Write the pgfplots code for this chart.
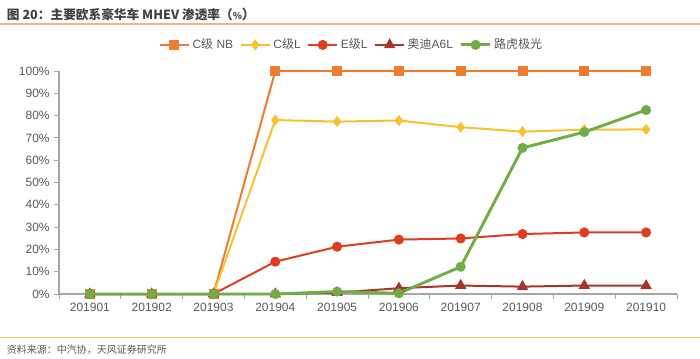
\documentclass[border=0pt]{standalone}
\usepackage{pgfplots}
\pgfplotsset{compat=1.18}
\usepackage{fontspec}
\setmainfont{Liberation Sans}
\newfontfamily\cjk{Noto Sans CJK SC}
\definecolor{cnb}{HTML}{ED7D31}
\definecolor{cl}{HTML}{F9C131}
\definecolor{el}{HTML}{DE3D1F}
\definecolor{aud}{HTML}{A8342A}
\definecolor{lr}{HTML}{70AD47}
\definecolor{txt}{HTML}{595959}
\definecolor{axl}{HTML}{A6A6A6}
\definecolor{rule}{HTML}{F4B183}
\begin{document}
\begin{tikzpicture}
\path[use as bounding box] (0,0) rectangle (525pt,268.5pt);
\node[anchor=west,inner sep=0pt,text=black!75] at (5pt,258pt) {\fontsize{9.5pt}{11pt}\selectfont\cjk\bfseries 图 20：主要欧系豪华车 MHEV 渗透率（\scriptsize\%\normalsize）};
\draw[rule,line width=0.8pt] (0,250.5pt) -- (525pt,250.5pt);
\draw[rule!70!yellow,line width=0.6pt] (0,15.75pt) -- (525pt,15.75pt);
\node[anchor=west,inner sep=0pt,text=txt] at (5pt,6pt) {\fontsize{7.5pt}{9pt}\selectfont\cjk 资料来源：中汽协，天风证券研究所};
\begin{axis}[
  at={(44.25pt,48pt)}, anchor=south west,
  scale only axis, width=463.5pt, height=167.25pt,
  xmin=-0.5, xmax=9.5, ymin=0, ymax=100,
  clip=false,
  axis lines=left, axis line style={-,draw=axl,line width=0.8pt},
  tick align=outside, major tick length=3.5pt,
  tick style={draw=axl,line width=0.7pt},
  xtick={-0.5,0.5,...,9.5}, xticklabels={},
  extra x ticks={0,1,2,3,4,5,6,7,8,9},
  extra x tick labels={201901,201902,201903,201904,201905,201906,201907,201908,201909,201910},
  extra x tick style={major tick length=0pt},
  ytick={0,10,...,100},
  yticklabels={0\%,10\%,20\%,30\%,40\%,50\%,60\%,70\%,80\%,90\%,100\%},
  ticklabel style={font=\fontsize{9pt}{10pt}\selectfont, text=txt},
  xticklabel style={yshift=-3pt},
  legend columns=5,
  legend style={at={(0.474,1.117)}, anchor=center, draw=none, fill=none,
    font=\fontsize{9pt}{10pt}\selectfont, text=txt,
    /tikz/every even column/.append style={column sep=3pt},
    legend cell align=left, inner sep=0pt},
  legend image code/.code={\draw[mark repeat=2,mark phase=2] plot coordinates {(0cm,0cm) (0.38cm,0cm) (0.76cm,0cm)};},
]
\addplot[cnb, line width=1.5pt, mark=square*, mark size=3pt, mark options={fill=cnb,draw=cnb}] coordinates {
(0,0) (1,0) (2,0) (3,100) (4,100) (5,100) (6,100) (7,100) (8,100) (9,100)};
\addlegendentry{C{\cjk 级} NB}
\addplot[cl, line width=1.5pt, mark=diamond*, mark size=3pt, mark options={fill=cl,draw=cl}] coordinates {
(0,0) (1,0) (2,0) (3,78) (4,77.3) (5,77.8) (6,74.8) (7,72.8) (8,73.7) (9,73.8)};
\addlegendentry{C{\cjk 级}L}
\addplot[el, line width=1.5pt, mark=*, mark size=3pt, mark options={fill=el,draw=el}] coordinates {
(0,0) (1,0) (2,0) (3,14.5) (4,21.2) (5,24.4) (6,24.9) (7,26.9) (8,27.6) (9,27.6)};
\addlegendentry{E{\cjk 级}L}
\addplot[aud, line width=1.5pt, mark=triangle*, mark size=3.5pt, mark options={fill=aud,draw=aud}] coordinates {
(0,0) (1,0) (2,0) (3,0) (4,0.6) (5,2.6) (6,3.8) (7,3.3) (8,3.8) (9,3.7)};
\addlegendentry{{\cjk 奥迪}A6L}
\addplot[lr, line width=2.2pt, mark=*, mark size=2.6pt, mark options={fill=lr,draw=lr}] coordinates {
(0,0) (1,0) (2,0) (3,0) (4,1.1) (5,0.3) (6,12.2) (7,65.5) (8,72.6) (9,82.5)};
\addlegendentry{{\cjk 路虎极光}}
\end{axis}
\end{tikzpicture}
\end{document}
